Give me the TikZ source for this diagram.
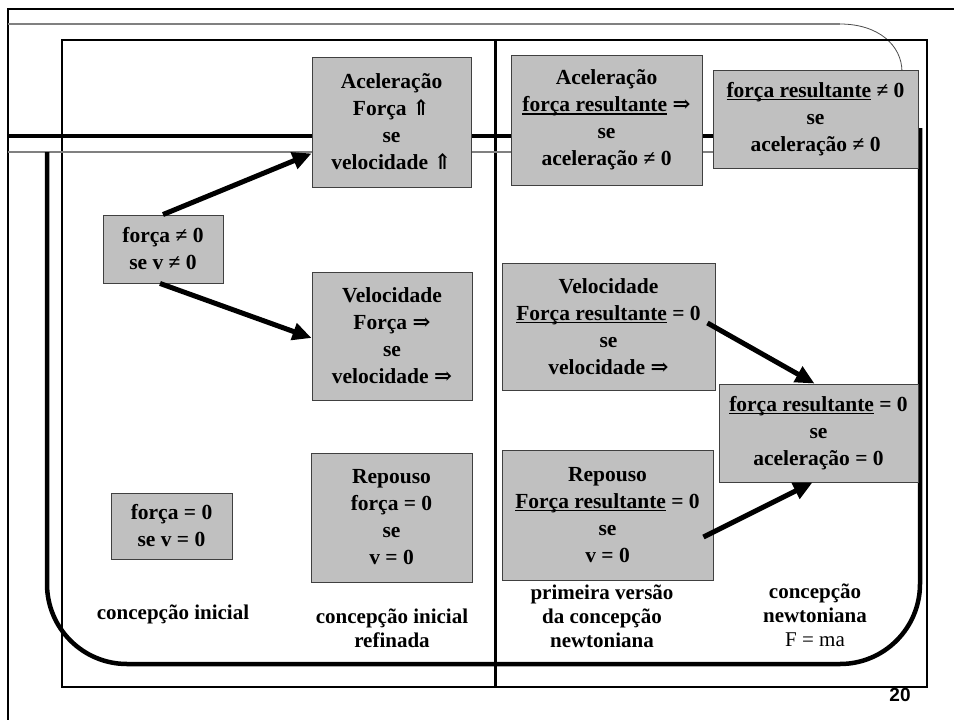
\documentclass[tikz,border=0pt]{standalone}
\usepackage{fontspec}
\setmainfont{Liberation Serif}
\setsansfont{Liberation Sans}
\newfontfamily\symf{DejaVu Serif}
\usetikzlibrary{arrows.meta,calc}
\definecolor{boxgray}{HTML}{C0C0C0}
\definecolor{lgray}{HTML}{808080}
\newcommand\ulx[1]{\setbox0\hbox{#1}\rlap{\rule[-3pt]{\wd0}{1.4pt}}\box0\relax}
\newcommand\Ar{{\symf\bfseries ⇒}}
\newcommand\Up{{\symf\bfseries ⇑}}
\begin{document}
\begin{tikzpicture}[x=1pt,y=-1pt,
  bx/.style={draw=black!75, line width=0.9pt, fill=boxgray, align=center, inner sep=0pt,
    font=\fontsize{21.5}{27}\selectfont\bfseries},
  lbl/.style={align=center, inner sep=0pt, font=\fontsize{21}{24}\selectfont\bfseries},
  arr/.style={line width=5pt, -{Triangle[length=19pt,width=17pt]}}]
\useasboundingbox (0,0) rectangle (954,720);
\fill[white] (0,0) rectangle (954,720);
% frame lines
\draw[line width=2.5pt] (8,720) -- (8,9) -- (954,9);
\draw[lgray, line width=1.5pt] (8,24) -- (840,24);
\draw[black!70, line width=0.8pt] (840,24) .. controls (878,24) and (902,45) .. (902,72);
\draw[line width=2pt] (62,40) rectangle (927,687);
\draw[line width=3pt] (495,40) -- (495,687);
\draw[line width=3.5pt] (8,136) -- (915,136);
\draw[lgray, line width=1.5pt] (8,152) -- (715,152);
\draw[line width=4.5pt, rounded corners=80pt] (47,152) -- (47,664) -- (920,664) -- (920,128);
% boxes
\node[bx, minimum width=159pt, minimum height=130pt] (b1) at (391.5,122) {Aceleração\\Força \Up\\se\\velocidade \Up};
\node[bx, minimum width=191pt, minimum height=130pt] (b2) at (606.5,120) {Aceleração\\\ulx{força resultante} \Ar\\se\\aceleração ≠ 0};
\node[bx, minimum width=205pt, minimum height=98pt] (b3) at (815.5,119) {\ulx{força resultante} ≠ 0\\se\\aceleração ≠ 0};
\node[bx, minimum width=120pt, minimum height=68pt] (b4) at (163,249) {força ≠ 0\\se v ≠ 0};
\node[bx, minimum width=160pt, minimum height=128pt] (b5) at (392,336) {Velocidade\\Força \Ar\\se\\velocidade \Ar};
\node[bx, minimum width=213pt, minimum height=127pt] (b6) at (608.5,326.5) {Velocidade\\\ulx{Força resultante} = 0\\se\\velocidade \Ar};
\node[bx, minimum width=199pt, minimum height=98pt] (b7) at (818.5,433) {\ulx{força resultante} = 0\\se\\aceleração = 0};
\node[bx, minimum width=161pt, minimum height=129pt] (b8) at (391.5,517.5) {Repouso\\força = 0\\se\\v = 0};
\node[bx, minimum width=211pt, minimum height=130pt] (b9) at (607.5,515) {Repouso\\\ulx{Força resultante} = 0\\se\\v = 0};
\node[bx, minimum width=121pt, minimum height=66pt] (b10) at (171.5,526) {força = 0\\se v = 0};
% labels
\node[lbl] (l1) at (173,614) {concepção inicial};
\node[lbl] (l2) at (392,628) {concepção inicial\\refinada};
\node[lbl] (l3) at (602,616) {primeira versão\\da concepção\\newtoniana};
\node[lbl] (l4) at (815,615) {concepção\\newtoniana\\{\mdseries F = ma}};
\node[font=\sffamily\bfseries\fontsize{19}{21}\selectfont, inner sep=0pt] (pg) at (900,695) {20};
% arrows
\draw[arr] (b4.north) -- ([yshift=34pt]b1.south west);
\draw[arr] ([xshift=-3pt]b4.south) -- ([yshift=-2pt]b5.west);
\draw[arr] ([xshift=-8pt,yshift=3.5pt]b6.east) -- ([xshift=-4pt]b7.north);
\draw[arr] ([xshift=-10pt,yshift=-22pt]b9.east) -- ([xshift=-6pt]b7.south);
\end{tikzpicture}
\end{document}
